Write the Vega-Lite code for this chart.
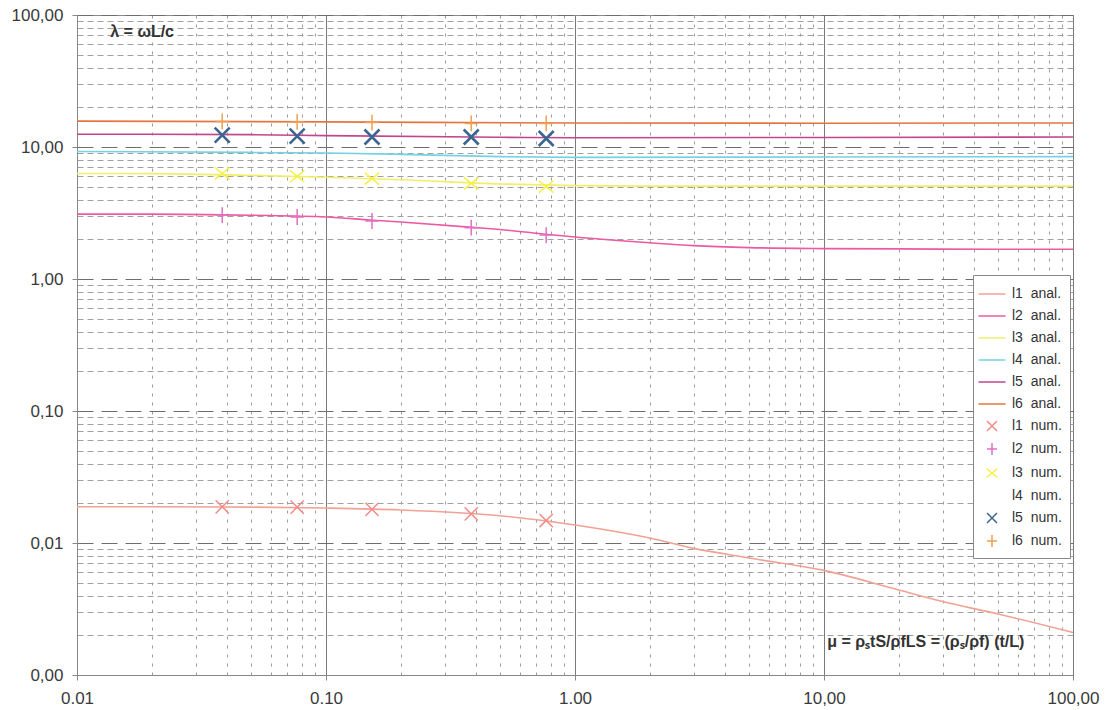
{
  "$schema": "https://vega.github.io/schema/vega-lite/v6.json",
  "width": 996,
  "height": 660,
  "autosize": {"type": "none"},
  "padding": {"left": 77, "top": 15, "right": 34, "bottom": 35},
  "background": "white",
  "config": {"font": "Liberation Sans", "view": {"stroke": "#8a8a8a", "strokeWidth": 1}},
  "datasets": {
    "anal": [
      {"series": "l1 anal.", "x": 0.01, "y": 0.0188},
      {"series": "l1 anal.", "x": 0.02, "y": 0.0188},
      {"series": "l1 anal.", "x": 0.05, "y": 0.0187},
      {"series": "l1 anal.", "x": 0.1, "y": 0.0184},
      {"series": "l1 anal.", "x": 0.2, "y": 0.0178},
      {"series": "l1 anal.", "x": 0.5, "y": 0.0161},
      {"series": "l1 anal.", "x": 1, "y": 0.0137},
      {"series": "l1 anal.", "x": 2, "y": 0.0109},
      {"series": "l1 anal.", "x": 3, "y": 0.0091},
      {"series": "l1 anal.", "x": 5, "y": 0.0077},
      {"series": "l1 anal.", "x": 10, "y": 0.0062},
      {"series": "l1 anal.", "x": 20, "y": 0.0044},
      {"series": "l1 anal.", "x": 30, "y": 0.0036},
      {"series": "l1 anal.", "x": 50, "y": 0.0029},
      {"series": "l1 anal.", "x": 100, "y": 0.0021},
      {"series": "l2 anal.", "x": 0.01, "y": 3.1},
      {"series": "l2 anal.", "x": 0.02, "y": 3.1},
      {"series": "l2 anal.", "x": 0.05, "y": 3.04},
      {"series": "l2 anal.", "x": 0.1, "y": 2.95},
      {"series": "l2 anal.", "x": 0.15, "y": 2.8},
      {"series": "l2 anal.", "x": 0.2, "y": 2.7},
      {"series": "l2 anal.", "x": 0.4, "y": 2.45},
      {"series": "l2 anal.", "x": 0.5, "y": 2.37},
      {"series": "l2 anal.", "x": 0.77, "y": 2.18},
      {"series": "l2 anal.", "x": 1, "y": 2.08},
      {"series": "l2 anal.", "x": 2, "y": 1.88},
      {"series": "l2 anal.", "x": 3, "y": 1.79},
      {"series": "l2 anal.", "x": 5, "y": 1.73},
      {"series": "l2 anal.", "x": 10, "y": 1.7},
      {"series": "l2 anal.", "x": 20, "y": 1.69},
      {"series": "l2 anal.", "x": 50, "y": 1.68},
      {"series": "l2 anal.", "x": 100, "y": 1.68},
      {"series": "l3 anal.", "x": 0.01, "y": 6.3},
      {"series": "l3 anal.", "x": 0.02, "y": 6.28},
      {"series": "l3 anal.", "x": 0.05, "y": 6.1},
      {"series": "l3 anal.", "x": 0.1, "y": 5.9},
      {"series": "l3 anal.", "x": 0.2, "y": 5.65},
      {"series": "l3 anal.", "x": 0.5, "y": 5.25},
      {"series": "l3 anal.", "x": 1, "y": 5.1},
      {"series": "l3 anal.", "x": 2, "y": 5.05},
      {"series": "l3 anal.", "x": 10, "y": 5.05},
      {"series": "l3 anal.", "x": 100, "y": 5.05},
      {"series": "l4 anal.", "x": 0.01, "y": 9.25},
      {"series": "l4 anal.", "x": 0.05, "y": 9.1},
      {"series": "l4 anal.", "x": 0.1, "y": 9.0},
      {"series": "l4 anal.", "x": 0.2, "y": 8.8},
      {"series": "l4 anal.", "x": 0.5, "y": 8.45},
      {"series": "l4 anal.", "x": 1, "y": 8.35},
      {"series": "l4 anal.", "x": 10, "y": 8.4},
      {"series": "l4 anal.", "x": 100, "y": 8.45},
      {"series": "l5 anal.", "x": 0.01, "y": 12.5},
      {"series": "l5 anal.", "x": 0.05, "y": 12.4},
      {"series": "l5 anal.", "x": 0.1, "y": 12.2},
      {"series": "l5 anal.", "x": 0.5, "y": 11.85},
      {"series": "l5 anal.", "x": 1, "y": 11.75},
      {"series": "l5 anal.", "x": 10, "y": 11.8},
      {"series": "l5 anal.", "x": 100, "y": 11.9},
      {"series": "l6 anal.", "x": 0.01, "y": 15.7},
      {"series": "l6 anal.", "x": 0.1, "y": 15.5},
      {"series": "l6 anal.", "x": 1, "y": 15.2},
      {"series": "l6 anal.", "x": 10, "y": 15.15},
      {"series": "l6 anal.", "x": 100, "y": 15.2}
    ],
    "num": [
      {"series": "l1 num.", "x": 0.0383, "y": 0.0188},
      {"series": "l1 num.", "x": 0.0766, "y": 0.0187},
      {"series": "l1 num.", "x": 0.153, "y": 0.018},
      {"series": "l1 num.", "x": 0.383, "y": 0.0166},
      {"series": "l1 num.", "x": 0.766, "y": 0.0148},
      {"series": "l2 num.", "x": 0.0383, "y": 3.05},
      {"series": "l2 num.", "x": 0.0766, "y": 2.95},
      {"series": "l2 num.", "x": 0.153, "y": 2.75},
      {"series": "l2 num.", "x": 0.383, "y": 2.45},
      {"series": "l2 num.", "x": 0.766, "y": 2.15},
      {"series": "l3 num.", "x": 0.0383, "y": 6.3},
      {"series": "l3 num.", "x": 0.0766, "y": 6.0},
      {"series": "l3 num.", "x": 0.153, "y": 5.75},
      {"series": "l3 num.", "x": 0.383, "y": 5.3},
      {"series": "l3 num.", "x": 0.766, "y": 5.0},
      {"series": "l5 num.", "x": 0.0383, "y": 12.3},
      {"series": "l5 num.", "x": 0.0766, "y": 12.1},
      {"series": "l5 num.", "x": 0.153, "y": 11.9},
      {"series": "l5 num.", "x": 0.383, "y": 11.9},
      {"series": "l5 num.", "x": 0.766, "y": 11.6},
      {"series": "l6 num.", "x": 0.0383, "y": 15.6},
      {"series": "l6 num.", "x": 0.0766, "y": 15.5},
      {"series": "l6 num.", "x": 0.153, "y": 15.3},
      {"series": "l6 num.", "x": 0.383, "y": 15.1},
      {"series": "l6 num.", "x": 0.766, "y": 15.1}
    ],
    "notes": [
      {"label": "λ = ωL/c", "x": 0.0136, "y": 74},
      {"label": "μ = ρₛtS/ρfLS = (ρₛ/ρf) (t/L)", "x": 10.3, "y": 0.00178}
    ]
  },
  "layer": [
    {
      "data": {"name": "anal"},
      "mark": {"type": "line", "interpolate": "monotone", "strokeWidth": 1.6},
      "encoding": {
        "x": {
          "field": "x", "type": "quantitative",
          "scale": {"type": "log", "domain": [0.01, 100], "nice": false},
          "axis": {
            "title": null,
            "values": [0.01,0.02,0.03,0.04,0.05,0.06,0.07,0.08,0.09,0.1,0.2,0.3,0.4,0.5,0.6,0.7,0.8,0.9,1,2,3,4,5,6,7,8,9,10,20,30,40,50,60,70,80,90,100],
            "labelExpr": "datum.value == 0.01 ? '0.01' : datum.value == 0.1 ? '0.10' : datum.value == 1 ? '1.00' : datum.value == 10 ? '10,00' : datum.value == 100 ? '100,00' : ''",
            "labelOverlap": false,
            "labelFlush": false,
            "labelFontSize": 17,
            "labelColor": "#3a3a3a",
            "labelPadding": 10,
            "grid": true,
            "gridColor": {"condition": {"test": "abs(log(datum.value)/LN10 - round(log(datum.value)/LN10)) < 0.01", "value": "#7a7a7a"}, "value": "#9c9c9c"},
            "gridDash": {"condition": {"test": "abs(log(datum.value)/LN10 - round(log(datum.value)/LN10)) < 0.01", "value": []}, "value": [3, 6]},
            "gridWidth": 1,
            "tickOpacity": {"condition": {"test": "abs(log(datum.value)/LN10 - round(log(datum.value)/LN10)) < 0.01", "value": 1}, "value": 0},
            "tickSize": 5,
            "tickColor": "#888888",
            "domainColor": "#888888"
          }
        },
        "y": {
          "field": "y", "type": "quantitative",
          "scale": {"type": "log", "domain": [0.001, 100], "nice": false},
          "axis": {
            "title": null,
            "values": [0.001,0.002,0.003,0.004,0.005,0.006,0.007,0.008,0.009,0.01,0.02,0.03,0.04,0.05,0.06,0.07,0.08,0.09,0.1,0.2,0.3,0.4,0.5,0.6,0.7,0.8,0.9,1,2,3,4,5,6,7,8,9,10,20,30,40,50,60,70,80,90,100],
            "labelExpr": "datum.value == 0.001 ? '0,00' : datum.value == 0.01 ? '0,01' : datum.value == 0.1 ? '0,10' : datum.value == 1 ? '1,00' : datum.value == 10 ? '10,00' : datum.value == 100 ? '100,00' : ''",
            "labelOverlap": false,
            "labelFlush": false,
            "labelFontSize": 17,
            "labelColor": "#3a3a3a",
            "labelPadding": 9,
            "grid": true,
            "gridColor": {"condition": {"test": "abs(log(datum.value)/LN10 - round(log(datum.value)/LN10)) < 0.01", "value": "#6e6e6e"}, "value": "#a0a0a0"},
            "gridDash": {"condition": {"test": "abs(log(datum.value)/LN10 - round(log(datum.value)/LN10)) < 0.01", "value": [16, 8]}, "value": [6, 4]},
            "gridWidth": 1,
            "tickOpacity": {"condition": {"test": "abs(log(datum.value)/LN10 - round(log(datum.value)/LN10)) < 0.01", "value": 1}, "value": 0},
            "tickSize": 5,
            "tickColor": "#888888",
            "domainColor": "#888888"
          }
        },
        "color": {
          "field": "series", "type": "nominal",
          "scale": {
            "domain": ["l1 anal.","l2 anal.","l3 anal.","l4 anal.","l5 anal.","l6 anal.","l1 num.","l2 num.","l3 num.","l4 num.","l5 num.","l6 num."],
            "range": ["#f0a294","#ec5aa2","#f2ee6a","#74d2e2","#c2468e","#e6743e","#f08c88","#e070c4","#f6f040","rgba(255,255,255,0)","#3a6690","#f0a050"]
          },
          "legend": {
            "title": null, "orient": "none", "legendX": 896, "legendY": 260, "direction": "vertical",
            "fillColor": "white", "strokeColor": "#888888", "padding": 8,
            "symbolSize": 400, "symbolStrokeWidth": 1.5, "symbolOffset": 0,
            "labelFontSize": 14, "labelColor": "#333333", "labelOffset": 9, "rowPadding": 4,
            "labelExpr": "replace(datum.label, ' ', '\u00a0\u00a0')"
          }
        },
        "shape": {
          "field": "series", "type": "nominal",
          "scale": {
            "domain": ["l1 anal.","l2 anal.","l3 anal.","l4 anal.","l5 anal.","l6 anal.","l1 num.","l2 num.","l3 num.","l4 num.","l5 num.","l6 num."],
            "range": ["M-1.35,0L1.35,0","M-1.35,0L1.35,0","M-1.35,0L1.35,0","M-1.35,0L1.35,0","M-1.35,0L1.35,0","M-1.35,0L1.35,0","M-0.5,-0.5L0.5,0.5M-0.5,0.5L0.5,-0.5","M-0.5,0L0.5,0M0,-0.6L0,0.6","M-0.55,-0.45L0.55,0.45M-0.55,0.45L0.55,-0.45","M0,0L0,0","M-0.5,-0.5L0.5,0.5M-0.5,0.5L0.5,-0.5","M-0.5,0L0.5,0M0,-0.6L0,0.6"]
          },
          "legend": {
            "title": null, "orient": "none", "legendX": 896, "legendY": 260, "direction": "vertical",
            "fillColor": "white", "strokeColor": "#888888", "padding": 8,
            "symbolSize": 400, "symbolStrokeWidth": 1.5, "symbolOffset": 0,
            "labelFontSize": 14, "labelColor": "#333333", "labelOffset": 9, "rowPadding": 4,
            "labelExpr": "replace(datum.label, ' ', '\u00a0\u00a0')"
          }
        }
      }
    },
    {
      "data": {"name": "num"},
      "transform": [{"filter": "datum.series != 'l5 num.'"}],
      "mark": {"type": "point", "filled": false, "strokeWidth": 1.5, "size": 700, "opacity": 1},
      "encoding": {
        "x": {"field": "x", "type": "quantitative"},
        "y": {"field": "y", "type": "quantitative"},
        "color": {"field": "series", "type": "nominal"},
        "shape": {"field": "series", "type": "nominal"}
      }
    },
    {
      "data": {"name": "num"},
      "transform": [{"filter": "datum.series == 'l5 num.'"}],
      "mark": {"type": "point", "filled": false, "strokeWidth": 2.6, "size": 900, "opacity": 1},
      "encoding": {
        "x": {"field": "x", "type": "quantitative"},
        "y": {"field": "y", "type": "quantitative"},
        "color": {"field": "series", "type": "nominal"},
        "shape": {"field": "series", "type": "nominal"}
      }
    },
    {
      "data": {"name": "notes"},
      "mark": {"type": "text", "align": "left", "baseline": "middle", "fontWeight": "bold", "fontSize": 16, "color": "#333333"},
      "encoding": {
        "x": {"field": "x", "type": "quantitative"},
        "y": {"field": "y", "type": "quantitative"},
        "text": {"field": "label"}
      }
    }
  ]
}
